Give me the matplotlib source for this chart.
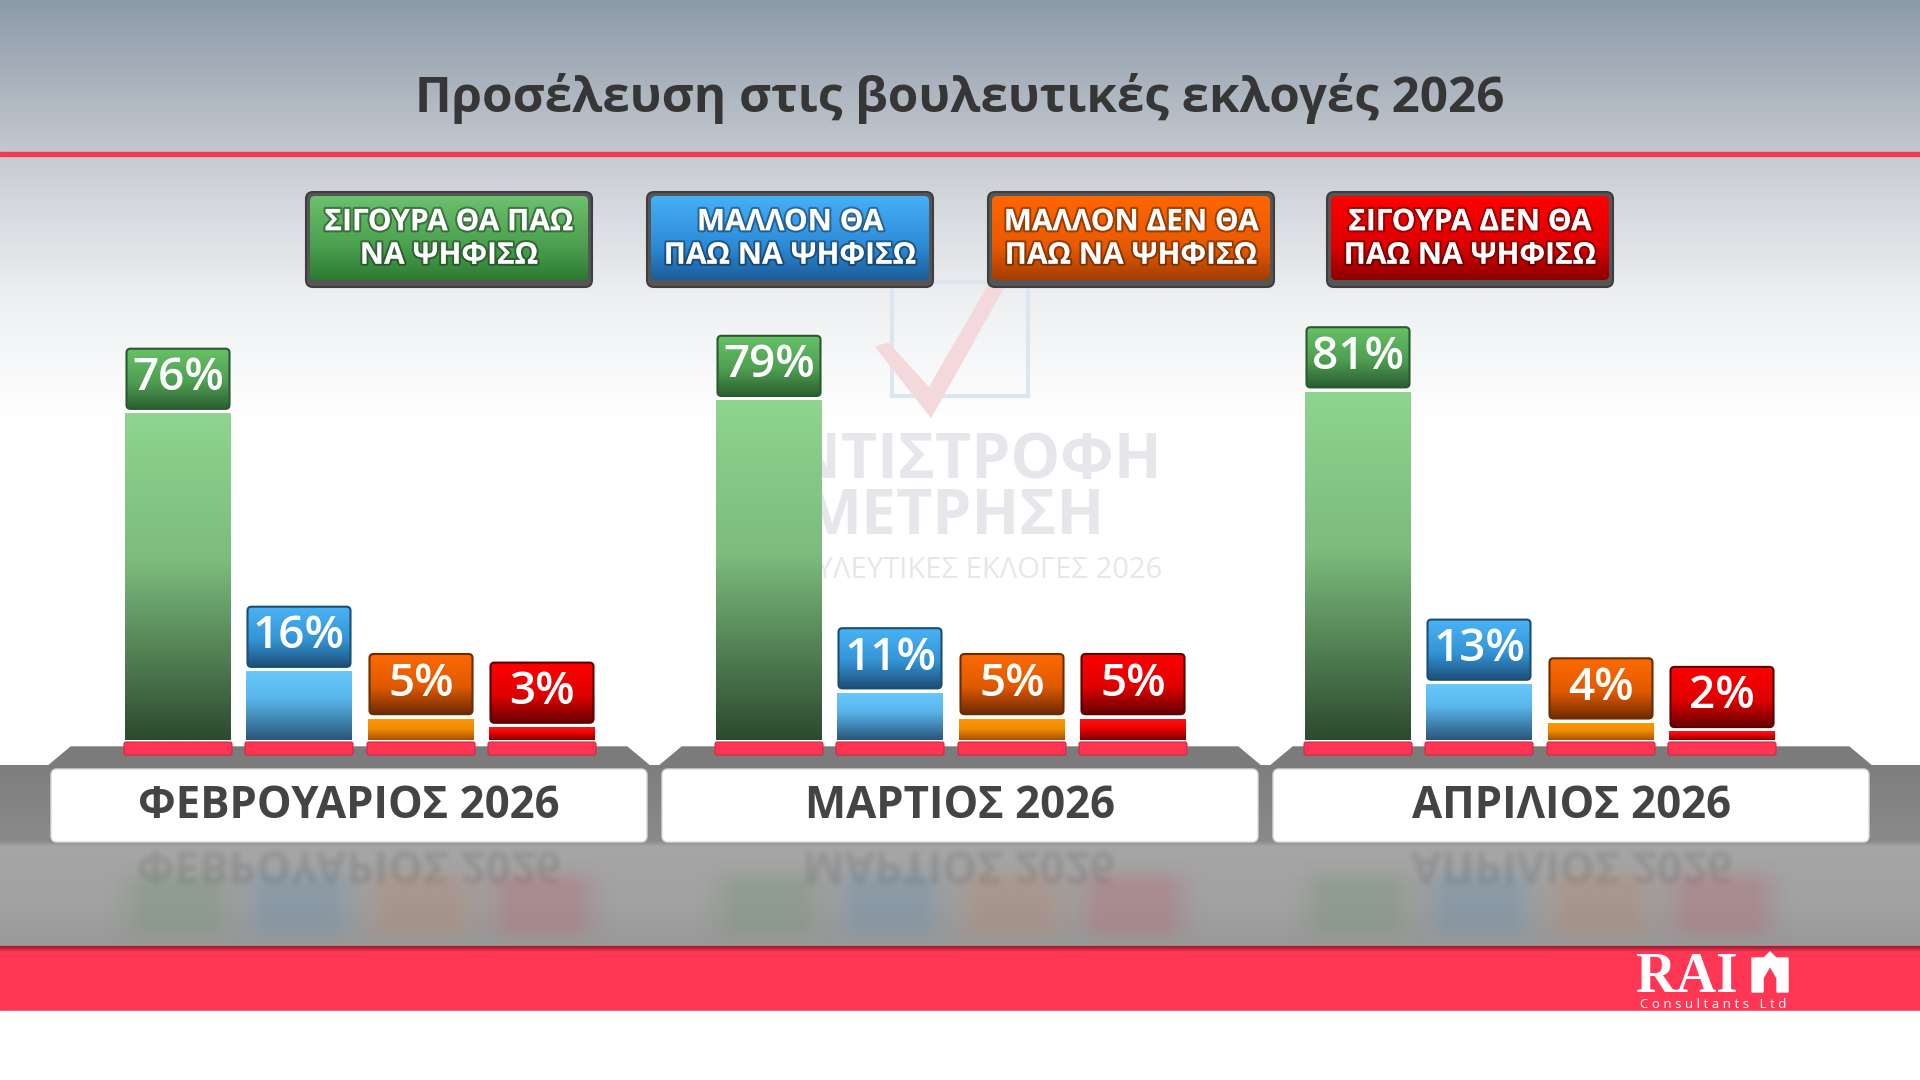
import numpy as np
import matplotlib.pyplot as plt
import matplotlib.patheffects as pe
from matplotlib.patches import Rectangle, FancyBboxPatch, Polygon, PathPatch
from matplotlib.textpath import TextPath
from matplotlib.font_manager import FontProperties
from matplotlib.transforms import Affine2D
from matplotlib.colors import to_rgb

plt.rcParams['font.family'] = ['Open Sans', 'DejaVu Sans']

# --- data ---
title = 'Προσέλευση στις βουλευτικές εκλογές 2026'
months = ['ΦΕΒΡΟΥΑΡΙΟΣ 2026', 'ΜΑΡΤΙΟΣ 2026', 'ΑΠΡΙΛΙΟΣ 2026']
answers = ['ΣΙΓΟΥΡΑ ΘΑ ΠΑΩ\nΝΑ ΨΗΦΙΣΩ', 'ΜΑΛΛΟΝ ΘΑ\nΠΑΩ ΝΑ ΨΗΦΙΣΩ',
           'ΜΑΛΛΟΝ ΔΕΝ ΘΑ\nΠΑΩ ΝΑ ΨΗΦΙΣΩ', 'ΣΙΓΟΥΡΑ ΔΕΝ ΘΑ\nΠΑΩ ΝΑ ΨΗΦΙΣΩ']
feb = [76, 16, 5, 3]
mar = [79, 11, 5, 5]
apr = [81, 13, 4, 2]
results = [feb, mar, apr]

# --- styling ---
bar_stops = [
    [(0, '#8fd490'), (0.45, '#7cbc7d'), (1, '#2c4a2e')],
    [(0, '#68c9fb'), (0.4, '#58b6ec'), (1, '#29567a')],
    [(0, '#ff9a0a'), (0.5, '#f08a00'), (1, '#a85200')],
    [(0, '#ff1414'), (0.5, '#e80000'), (1, '#7c0000')],
]
tag_stops = [
    [(0, '#66c266'), (0.55, '#4f9f52'), (1, '#2b5f31')],
    [(0, '#4ab4f7'), (0.55, '#3494d6'), (1, '#1c4f78')],
    [(0, '#ff6a00'), (0.55, '#e05a00'), (1, '#6e2a00')],
    [(0, '#ff0000'), (0.55, '#e00000'), (1, '#660000')],
]
tag_edge = ['#2a5a2e', '#1d4d72', '#6a2c00', '#5a0000']
legend_stops = [
    [(0, '#6cc06e'), (0.6, '#4aa04e'), (1, '#2e7a34')],
    [(0, '#45b0f8'), (0.6, '#2d8ad6'), (1, '#1a5d9a')],
    [(0, '#ff6600'), (0.6, '#e85a00'), (1, '#a33e00')],
    [(0, '#ff0000'), (0.6, '#dd0000'), (1, '#8a0000')],
]
reflect_col = ['#4f8a50', '#3f7fb0', '#c0704a', '#c04050']

PX = 4.3          # pixels per percentage point
BASE = 740        # pixel row of the bar baseline
group_x = [360, 951, 1540]
offsets = np.array([-182, -61, 61, 182])
bar_w = 106
panel_x = [(51, 647), (662, 1258), (1273, 1869)]
legend_x = [306, 647, 988, 1327]

fig = plt.figure(figsize=(19.2, 10.8), dpi=100)
ax0 = fig.add_axes([0, 0, 1, 1])
ax0.set_xlim(0, 1920)
ax0.set_ylim(1080, 0)
ax0.axis('off')


def vgrad(ax, x0, x1, y0, y1, stops, z, clip=None, alpha=1.0):
    t = np.linspace(0, 1, 256)
    pos = [s[0] for s in stops]
    cols = np.array([to_rgb(s[1]) for s in stops])
    img = np.stack([np.interp(t, pos, cols[:, k]) for k in range(3)], axis=1)[:, None, :]
    im = ax.imshow(img, extent=(x0, x1, y1, y0), origin='upper', aspect='auto',
                   zorder=z, interpolation='bilinear', alpha=alpha)
    if clip is not None:
        im.set_clip_path(clip)
    return im


# background
vgrad(ax0, 0, 1920, 0, 155, [(0, '#8c9aa9'), (1, '#c4c9cf')], 0)
vgrad(ax0, 0, 1920, 155, 420, [(0, '#c8ccd2'), (0.55, '#eef0f2'), (1, '#ffffff')], 0)
ax0.add_patch(Rectangle((0, 420), 1920, 360, color='white', zorder=0))
ax0.add_patch(Rectangle((0, 152), 1920, 4, color='#f23a52', zorder=1))

# watermark
wm = '#e5e7eb'
ax0.add_patch(Rectangle((892, 282), 136, 114, fill=False, ec='#dce6f1', lw=3, zorder=1))
ax0.add_patch(Polygon([(876, 347), (931, 417), (1006, 283), (990, 283), (929, 388), (888, 343)],
                      closed=True, color='#f3d9db', zorder=1.1))
ax0.text(1162, 478, 'ΑΝΤΙΣΤΡΟΦΗ', ha='right', va='baseline', fontsize=45,
         fontweight='bold', color=wm, zorder=1)
ax0.text(1105, 534, 'ΜΕΤΡΗΣΗ', ha='right', va='baseline', fontsize=45,
         fontweight='bold', color=wm, zorder=1)
ax0.text(1162, 578, 'ΒΟΥΛΕΥΤΙΚΕΣ ΕΚΛΟΓΕΣ 2026', ha='right', va='baseline', fontsize=21,
         color=wm, zorder=1)

# title
ax0.text(960, 112, title, ha='center', va='baseline', fontsize=35.5, fontweight='bold',
         color='#363636', zorder=5)

# legend boxes
for i, lab in enumerate(answers):
    x0 = legend_x[i]
    frame = FancyBboxPatch((x0, 192), 286, 95, boxstyle='round,pad=0,rounding_size=7',
                           fc='#555555', ec='#3e3e3e', lw=1.5, zorder=2)
    ax0.add_patch(frame)
    inner = FancyBboxPatch((x0 + 4, 196), 278, 84, boxstyle='round,pad=0,rounding_size=5',
                           fc='none', ec='none', zorder=2)
    ax0.add_patch(inner)
    vgrad(ax0, x0 + 4, x0 + 282, 196, 280, legend_stops[i], 2.1, clip=inner)
    ax0.text(x0 + 143, 239, lab, ha='center', va='center', fontsize=21.5, fontweight='bold',
             color='white', linespacing=1.15, zorder=3,
             path_effects=[pe.withStroke(linewidth=3, foreground=(0, 0, 0, 0.35))])

# floor, platforms and month panels
vgrad(ax0, 0, 1920, 765, 946, [(0, '#7e7e7e'), (0.42, '#8a8a8a'), (0.45, '#a6a6a6'),
                                 (0.75, '#a2a2a2'), (1, '#999999')], 2)
gx = np.linspace(-1, 1, 120)
gy = np.linspace(0, 1, 80)
blob = (np.clip((1 - np.abs(gx)) * 1.8, 0, 1) ** 1.5)[None, :] * \
       (np.clip(np.sin(gy * np.pi) * 1.3, 0, 1) ** 1.5)[:, None]
for g, (pl, pr) in enumerate(panel_x):
    ax0.add_patch(Polygon([(pl + 20, 747), (pr - 20, 747), (pr + 4, 767), (pl - 4, 767)],
                          closed=True, color='#7b7b7b', zorder=2.2))
    ax0.add_patch(FancyBboxPatch((pl, 769), pr - pl, 73, boxstyle='round,pad=0,rounding_size=6',
                                 fc='white', ec='#d8d8d8', lw=1, zorder=3))
    ax0.text((pl + pr) / 2, 818, months[g], ha='center', va='baseline', fontsize=31.5,
             fontweight='bold', color='#444444', zorder=4)

    # soft reflection of the month label
    fp = FontProperties(family='Open Sans', weight='bold', size=44)
    tp = TextPath((0, 0), months[g], prop=fp)
    ext = tp.get_extents()
    cx = (pl + pr) / 2 - (ext.x0 + ext.x1) / 2
    for dx in (-3, -1, 1, 3):
        for dy in (-3, -1, 1, 3):
            tr = Affine2D().translate(cx + dx, 852 + dy)
            ax0.add_patch(PathPatch(tr.transform_path(tp), fc='#666666', ec='none',
                                    alpha=0.012, zorder=3))

    # soft reflections of the bars
    for i, xo in enumerate(offsets):
        xc = group_x[g] + xo
        rgba = np.zeros((80, 120, 4))
        rgba[..., :3] = to_rgb(reflect_col[i])
        rgba[..., 3] = blob * 0.22
        ax0.imshow(rgba, extent=(xc - 75, xc + 75, 950, 860), origin='upper', aspect='auto',
                   zorder=3, interpolation='bilinear')

    # red base strips under each bar
    for xo in offsets:
        xc = group_x[g] + xo
        ax0.add_patch(FancyBboxPatch((xc - 54, 742), 108, 13, boxstyle='round,pad=0,rounding_size=2',
                                     fc='#ff3553', ec='#d42540', lw=0.8, zorder=4))

# footer band and logo
ax0.add_patch(Rectangle((0, 946), 1920, 65, color='#ff3755', zorder=4))
vgrad(ax0, 0, 1920, 946, 952, [(0, '#8f1a2c'), (1, '#ff3755')], 4.1)
ax0.add_patch(Rectangle((0, 1011), 1920, 69, color='white', zorder=4))
ax0.text(1636, 992, 'RAI', ha='left', va='baseline', fontsize=40, fontweight='bold',
         family='Liberation Serif', color='white', zorder=5)
ax0.add_patch(Polygon([(1752, 992), (1752, 958), (1764, 958), (1770, 952), (1776, 958),
                       (1788, 958), (1788, 992), (1777, 992), (1777, 978), (1770, 966),
                       (1763, 978), (1763, 992)], closed=True, color='white', zorder=5))
ax0.text(1713, 1008, 'C o n s u l t a n t s   L t d', ha='center', va='baseline',
         fontsize=9.5, color='white', zorder=5)

# bars on their own axes, y measured in percentage points
ax1 = fig.add_axes([0, 0, 1, 1])
ax1.patch.set_alpha(0)
ax1.axis('off')

for g, vals in enumerate(results):
    xs = group_x[g] + offsets
    bars = ax1.bar(xs, vals, width=bar_w, color=[s[0][1] for s in bar_stops],
                   linewidth=0, zorder=3)
    for i, (b, v) in enumerate(zip(bars, vals)):
        vgrad(ax1, b.get_x(), b.get_x() + bar_w, v, 0, bar_stops[i], 3.1, clip=b)
        # value tag sitting on the bar
        tag = FancyBboxPatch((xs[i] - 51.5, v + 1), 103, 14, boxstyle='round,pad=0,rounding_size=4',
                             mutation_aspect=1 / PX, fc='none', ec=tag_edge[i], lw=1.5, zorder=4)
        ax1.add_patch(tag)
        vgrad(ax1, xs[i] - 51.5, xs[i] + 51.5, v + 15, v + 1, tag_stops[i], 3.9, clip=tag)
        ax1.text(xs[i], v + 8, f'{v}%', ha='center', va='center', fontsize=33,
                 fontweight='semibold', color='white', zorder=5)

ax1.set_xlim(0, 1920)
ax1.set_ylim((BASE - 1080) / PX, BASE / PX)
ax0.set_xlim(0, 1920)
ax0.set_ylim(1080, 0)

fig.savefig('out.png', dpi=100)
